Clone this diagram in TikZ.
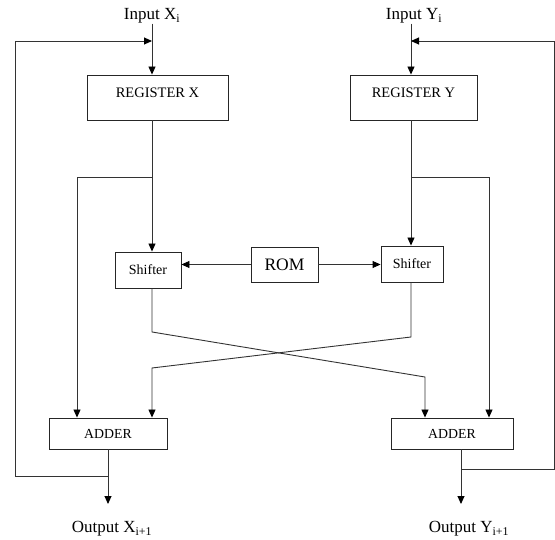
\documentclass[tikz,border=0pt]{standalone}
\usepackage{fontspec}
\setmainfont{Liberation Serif}
\usetikzlibrary{arrows.meta}

\begin{document}
\begin{tikzpicture}[x=1pt,y=-1pt,
    box/.style={draw=black!85,line width=.9pt,inner sep=0pt,align=center},
    reg/.style={box,minimum height=45pt,font=\fontsize{14.5}{16}\selectfont},
    shifterbox/.style={box,minimum height=36pt,font=\fontsize{14}{16}\selectfont},
    adder/.style={box,minimum height=31pt,font=\fontsize{13.8}{16}\selectfont},
    io/.style={inner sep=0pt,font=\fontsize{17}{19}\selectfont},
    link/.style={draw=black!80,line width=.9pt},
    arr/.style={link,-{Triangle[length=8pt,width=7pt,black]}}
  ]
    \useasboundingbox (0,0) rectangle (555,540);
    \node[io] (inx) at (152,16) {Input X\textsubscript{i}};
    \node[io] (iny) at (414,16) {Input Y\textsubscript{i}};
    \node[reg,minimum width=141pt] (regx) at (157.5,97.5) {\raisebox{10pt}{REGISTER X}};
    \node[reg,minimum width=127pt] (regy) at (413.5,97.5) {\raisebox{10pt}{REGISTER Y}};
    \node[shifterbox,minimum width=66pt] (shx) at (148,270) {Shifter};
    \node[shifterbox,minimum width=62pt] (shy) at (412,264) {Shifter};
    \node[box,minimum width=67pt,minimum height=35pt,font=\fontsize{17.5}{19}\selectfont] (rom) at (284.5,264.5) {ROM};
    \node[adder,minimum width=118pt] (addx) at (108,433.5) {ADDER};
    \node[adder,minimum width=122pt] (addy) at (452,433.5) {ADDER};
    \node[io] (outx) at (112,529) {Output X\textsubscript{i+1}};
    \node[io] (outy) at (469,529) {Output Y\textsubscript{i+1}};
    \coordinate (bx) at (152,177);
    \coordinate (by) at (411,177);
    \coordinate (fx) at (77,177);
    \coordinate (fy) at (489,177);
    \coordinate (kx) at (152,332);
    \coordinate (ky) at (411,337);
    \coordinate (cx) at (425,377);
    \coordinate (cy) at (152,368);
    \coordinate (jx) at (108,476);
    \coordinate (jy) at (461,469);
    \draw[arr] (inx.south -| bx) -- (bx |- regx.north);
    \draw[arr] (iny.south -| by) -- (by |- regy.north);
    \draw[arr] (bx |- regx.south) -- (bx |- shx.north);
    \draw[arr] (by |- regy.south) -- (by |- shy.north);
    \draw[arr] (bx) -- (fx) -- (fx |- addx.north);
    \draw[arr] (by) -- (fy) -- (fy |- addy.north);
    \draw[arr] (rom.west) -- (rom.west -| shx.east);
    \draw[arr] (rom.east) -- (rom.east -| shy.west);
    \draw[arr] (bx |- shx.south) -- (kx) -- (cx) -- (cx |- addy.north);
    \draw[arr] (by |- shy.south) -- (ky) -- (cy) -- (cy |- addx.north);
    \draw[arr] (addx.south) -- (addx.south |- 0,504);
    \draw[arr] (jy |- addy.south) -- (jy |- 0,504);
    \draw[arr] (jx) -- (15,476) |- (bx |- 0,41);
    \draw[arr] (jy) -- (554,469) |- (by |- 0,41);
  \end{tikzpicture}
\end{document}
